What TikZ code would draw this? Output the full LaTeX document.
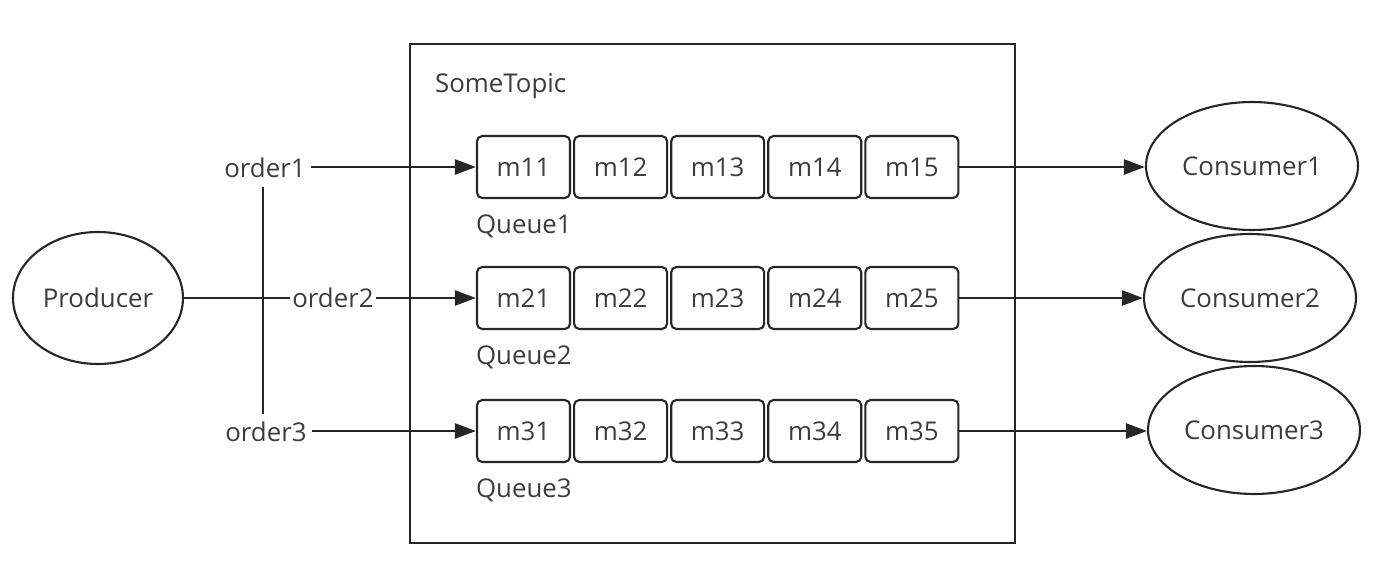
\documentclass[tikz,border=0pt]{standalone}
\usepackage{fontspec}
\setmainfont{Open Sans}
\usetikzlibrary{positioning,arrows.meta,shapes.geometric}
\definecolor{ink}{HTML}{262626}
\definecolor{txt}{HTML}{3C3C3C}

\begin{document}
\begin{tikzpicture}[x=0.02cm,y=-0.02cm,
  lbl/.style={font=\fontsize{14.7}{17}\selectfont,text=txt,inner sep=1pt},
  cell/.style={lbl,draw=ink,line width=1.2pt,rounded corners=3pt,minimum width=1.86cm,minimum height=1.24cm},
  oval/.style={lbl,draw=ink,line width=1.2pt,ellipse,inner sep=0pt},
  flow/.style={ink,line width=1.6pt,-{Triangle[length=12pt,width=8.5pt]}}]
  \useasboundingbox (0,0) rectangle (1395,581);
  % topic frame
  \draw[ink,line width=1.2pt] (410,44) rectangle (1015,543);
  \node[lbl,anchor=west] (topic) at (433,86) {SomeTopic};
  % queues
  \foreach \r/\y in {1/167,2/298,3/431}{
    \node[cell] (m\r1) at (523.5,\y) {m\r1};
    \foreach \c [evaluate=\c as \p using int(\c-1)] in {2,...,5}
      \node[cell,right=0.04cm of m\r\p] (m\r\c) {m\r\c};
    \node[lbl,anchor=west] (q\r) at (474,\y+59) {Queue\r};
  }
  % producer side
  \node[oval,minimum width=3.4cm,minimum height=2.64cm] (prod) at (98,298) {Producer};
  \node[lbl] (order1) at (265,168) {order1};
  \node[lbl] (order2) at (333,298) {order2};
  \node[lbl] (order3) at (266,432) {order3};
  \coordinate (vtop) at (263,187);
  \coordinate (vbot) at (263,414);
  \draw[ink,line width=1.6pt] (vtop) -- (vbot);
  \draw[ink,line width=1.6pt] (prod.east) -- (prod.east -| order2.west);
  \draw[flow] ([xshift=2pt]m11.west -| order1.east) -- (m11.west);
  \draw[flow] (m21.west -| order2.east) -- (m21.west);
  \draw[flow] ([xshift=2pt]m31.west -| order3.east) -- (m31.west);
  % consumers
  \node[oval,minimum width=4.24cm,minimum height=2.56cm] (c1) at (1252,166) {Consumer1};
  \node[oval,minimum width=4.24cm,minimum height=2.56cm] (c2) at (1250,298) {Consumer2};
  \node[oval,minimum width=4.24cm,minimum height=2.56cm] (c3) at (1254,430) {Consumer3};
  \draw[flow] (m15.east) -- (m15.east -| c1.west);
  \draw[flow] (m25.east) -- (m25.east -| c2.west);
  \draw[flow] (m35.east) -- (m35.east -| c3.west);
\end{tikzpicture}
\end{document}
